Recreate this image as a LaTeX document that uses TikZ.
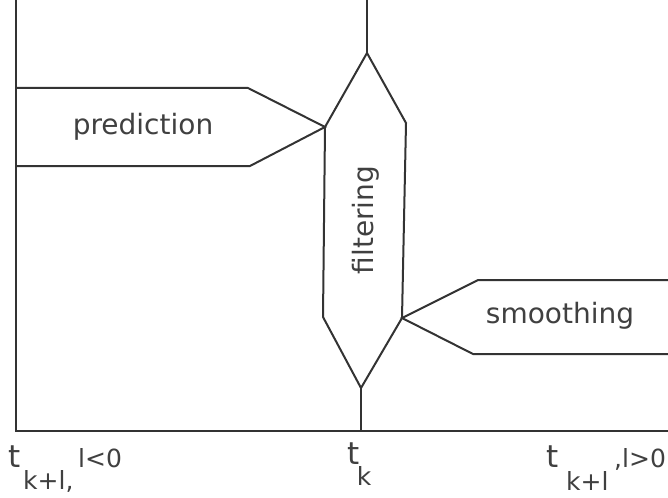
\documentclass[tikz,border=0pt]{standalone}
\usepackage{fontspec}
\setmainfont{DejaVu Sans}
\begin{document}
\begin{tikzpicture}[x=1pt,y=-1pt,
  ln/.style={line width=2pt,draw=black!80,line join=miter},
  lbl/.style={inner sep=0pt,text=black!75,font=\fontsize{28}{28}\selectfont},
  big/.style={inner sep=0pt,text=black!75,font=\fontsize{31}{31}\selectfont},
  sml/.style={inner sep=0pt,text=black!75,font=\fontsize{25}{25}\selectfont}]
\useasboundingbox (0,0) rectangle (668,497);
% axes
\coordinate (tl) at (16,0);
\coordinate (bl) at (16,431);
\coordinate (br) at (668,431);
\draw[ln] (tl) -- (bl) -- (br);
% filtering shape
\coordinate (ftop0) at (367,0);
\coordinate (ftop) at (367,53);
\coordinate (fl1) at (325,127);
\coordinate (fl2) at (323,317);
\coordinate (fbot) at (361,388);
\coordinate (fbot0) at (361,431);
\coordinate (fr1) at (406,123);
\coordinate (fr2) at (402,318);
\draw[ln] (ftop0) -- (ftop);
\draw[ln] (fbot) -- (fbot0);
\draw[ln] (ftop) -- (fl1) -- (fl2) -- (fbot) -- (fr2) -- (fr1) -- cycle;
% prediction shape
\coordinate (pt1) at (16,88);
\coordinate (pt2) at (248,88);
\coordinate (pb1) at (16,166);
\coordinate (pb2) at (250,166);
\draw[ln] (pt1) -- (pt2) -- (fl1) -- (pb2) -- (pb1);
% smoothing shape
\coordinate (st1) at (668,280);
\coordinate (st2) at (478,280);
\coordinate (sb1) at (668,354);
\coordinate (sb2) at (473,354);
\draw[ln] (st1) -- (st2) -- (fr2) -- (sb2) -- (sb1);
% labels
\node[lbl] (pred) at (143,127) {prediction};
\node[lbl,rotate=90] (filt) at (366,220) {filtering};
\node[lbl] (smoo) at (560,316) {smoothing};
% bottom labels
\node[big,anchor=base] (t1) at (15,467) {t};
\node[sml,anchor=base west] (t1s) at (23,489) {k+l,};
\node[sml,anchor=base west] (t1u) at (78,467) {l<0};
\node[big,anchor=base] (t2) at (354,464) {t};
\node[sml,anchor=base] (t2s) at (364,485) {k};
\node[big,anchor=base] (t3) at (553,467) {t};
\node[sml,anchor=base west] (t3s) at (566,490) {k+l};
\node[sml,anchor=base west] (t3u) at (614,467) {,l>0};
\end{tikzpicture}
\end{document}
